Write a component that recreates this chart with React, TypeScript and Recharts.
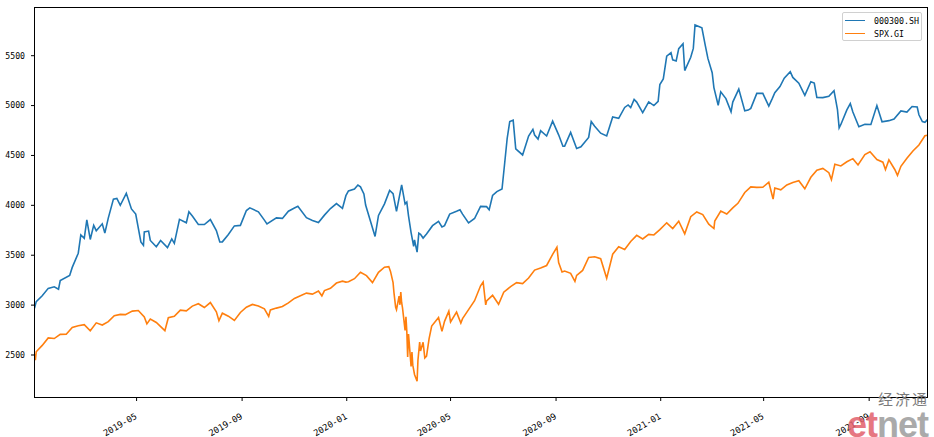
import React from 'react';
import { LineChart, Line, XAxis, YAxis } from 'recharts';

const csiDates = [
  '2019-01-02','2019-01-04','2019-01-11','2019-01-18','2019-01-25','2019-01-30','2019-02-01','2019-02-12','2019-02-15','2019-02-22',
  '2019-02-25','2019-03-01','2019-03-04','2019-03-08','2019-03-12','2019-03-15','2019-03-22','2019-03-25','2019-03-29','2019-04-04',
  '2019-04-08','2019-04-12','2019-04-19','2019-04-25','2019-04-30','2019-05-06','2019-05-09','2019-05-10','2019-05-15','2019-05-17',
  '2019-05-24','2019-05-29','2019-06-06','2019-06-11','2019-06-14','2019-06-20','2019-06-28','2019-07-01','2019-07-05','2019-07-12',
  '2019-07-19','2019-07-26','2019-08-02','2019-08-06','2019-08-09','2019-08-16','2019-08-23','2019-08-30','2019-09-06','2019-09-10',
  '2019-09-20','2019-09-27','2019-09-30','2019-10-11','2019-10-18','2019-10-25','2019-11-01','2019-11-05','2019-11-15','2019-11-22',
  '2019-11-29','2019-12-06','2019-12-13','2019-12-20','2019-12-27','2019-12-31','2020-01-03','2020-01-10','2020-01-14','2020-01-17',
  '2020-01-21','2020-01-23','2020-02-03','2020-02-07','2020-02-14','2020-02-20','2020-02-24','2020-02-28','2020-03-05','2020-03-09',
  '2020-03-11','2020-03-13','2020-03-16','2020-03-19','2020-03-20','2020-03-23','2020-03-25','2020-03-27','2020-03-30','2020-04-03',
  '2020-04-10','2020-04-17','2020-04-21','2020-04-24','2020-04-30','2020-05-08','2020-05-12','2020-05-15','2020-05-22','2020-05-29',
  '2020-06-05','2020-06-12','2020-06-15','2020-06-19','2020-06-24','2020-06-30','2020-07-03','2020-07-06','2020-07-09','2020-07-13',
  '2020-07-16','2020-07-17','2020-07-24','2020-07-31','2020-08-05','2020-08-07','2020-08-11','2020-08-14','2020-08-21','2020-08-28',
  '2020-09-04','2020-09-09','2020-09-11','2020-09-18','2020-09-25','2020-09-30','2020-10-09','2020-10-12','2020-10-16','2020-10-23',
  '2020-10-30','2020-11-06','2020-11-13','2020-11-20','2020-11-24','2020-11-27','2020-12-01','2020-12-04','2020-12-11','2020-12-18',
  '2020-12-24','2020-12-29','2020-12-31','2021-01-04','2021-01-08','2021-01-13','2021-01-15','2021-01-19','2021-01-22','2021-01-27',
  '2021-01-29','2021-02-05','2021-02-08','2021-02-10','2021-02-18','2021-02-22','2021-02-25','2021-03-02','2021-03-04','2021-03-09',
  '2021-03-12','2021-03-18','2021-03-24','2021-03-26','2021-04-02','2021-04-09','2021-04-13','2021-04-16','2021-04-23','2021-04-30',
  '2021-05-07','2021-05-11','2021-05-14','2021-05-20','2021-05-25','2021-06-01','2021-06-04','2021-06-11','2021-06-18','2021-06-25',
  '2021-06-29','2021-07-02','2021-07-09','2021-07-16','2021-07-22','2021-07-26','2021-07-28','2021-07-30','2021-08-06','2021-08-10',
  '2021-08-13','2021-08-20','2021-08-27','2021-09-03','2021-09-10','2021-09-16','2021-09-24','2021-09-30','2021-10-08','2021-10-15',
  '2021-10-21','2021-10-27','2021-10-29','2021-11-02','2021-11-05','2021-11-08',
];
const csiValues = [
  2969,3035,3094,3168,3184,3160,3247,3298,3378,3520,
  3704,3670,3855,3658,3800,3746,3815,3722,3872,4062,
  4070,4001,4120,3964,3913,3634,3599,3734,3742,3648,
  3585,3647,3576,3664,3619,3860,3825,3935,3893,3808,
  3808,3858,3747,3633,3634,3708,3794,3799,3948,3975,
  3935,3852,3814,3874,3869,3941,3973,3990,3877,3849,
  3828,3902,3968,4017,3970,4097,4144,4163,4204,4186,
  4115,4003,3688,3899,4015,4150,4118,3940,4206,4013,
  4033,3895,3727,3589,3653,3531,3722,3710,3672,3713,
  3796,3839,3784,3796,3912,3940,3955,3912,3824,3868,
  3990,3987,3955,4099,4138,4163,4414,4670,4840,4853,
  4567,4559,4505,4695,4762,4705,4664,4748,4695,4844,
  4707,4593,4593,4731,4570,4587,4681,4840,4793,4723,
  4695,4886,4872,4981,5006,4980,5061,5035,4930,5037,
  5000,5043,5211,5267,5495,5530,5458,5447,5570,5620,
  5351,5484,5573,5808,5779,5600,5473,5330,5180,5003,
  5138,5070,4938,5035,5165,4947,4955,4972,5122,5123,
  4995,5070,5130,5190,5275,5339,5282,5224,5102,5239,
  5225,5082,5080,5094,5150,4963,4776,4811,4957,5020,
  4936,4788,4813,4810,5000,4838,4849,4866,4946,4935,
  4990,4985,4908,4840,4832,4860,
];

const spxDates = [
  '2019-01-02','2019-01-03','2019-01-04','2019-01-11','2019-01-18','2019-01-25','2019-02-01','2019-02-08','2019-02-15','2019-02-22',
  '2019-03-01','2019-03-08','2019-03-15','2019-03-22','2019-03-29','2019-04-05','2019-04-12','2019-04-18','2019-04-26','2019-05-03',
  '2019-05-10','2019-05-13','2019-05-17','2019-05-24','2019-06-03','2019-06-07','2019-06-14','2019-06-21','2019-06-28','2019-07-05',
  '2019-07-12','2019-07-19','2019-07-26','2019-08-02','2019-08-05','2019-08-09','2019-08-16','2019-08-23','2019-08-30','2019-09-06',
  '2019-09-13','2019-09-20','2019-09-27','2019-10-02','2019-10-04','2019-10-11','2019-10-18','2019-10-25','2019-11-01','2019-11-08',
  '2019-11-15','2019-11-22','2019-11-29','2019-12-03','2019-12-06','2019-12-13','2019-12-20','2019-12-27','2019-12-31','2020-01-03',
  '2020-01-10','2020-01-17','2020-01-24','2020-01-31','2020-02-07','2020-02-14','2020-02-19','2020-02-21','2020-02-24','2020-02-25',
  '2020-02-27','2020-02-28','2020-03-02','2020-03-03','2020-03-04','2020-03-05','2020-03-06','2020-03-09','2020-03-10','2020-03-11',
  '2020-03-12','2020-03-13','2020-03-16','2020-03-17','2020-03-18','2020-03-20','2020-03-23','2020-03-24','2020-03-26','2020-03-27',
  '2020-03-30','2020-04-01','2020-04-03','2020-04-06','2020-04-09','2020-04-17','2020-04-21','2020-04-24','2020-04-29','2020-05-01',
  '2020-05-08','2020-05-13','2020-05-15','2020-05-22','2020-05-29','2020-06-05','2020-06-08','2020-06-11','2020-06-12','2020-06-19',
  '2020-06-26','2020-07-02','2020-07-10','2020-07-17','2020-07-24','2020-07-31','2020-08-07','2020-08-14','2020-08-21','2020-08-28',
  '2020-09-02','2020-09-04','2020-09-08','2020-09-11','2020-09-18','2020-09-23','2020-09-25','2020-10-02','2020-10-09','2020-10-16',
  '2020-10-23','2020-10-30','2020-11-06','2020-11-13','2020-11-20','2020-11-27','2020-12-04','2020-12-11','2020-12-18','2020-12-24',
  '2020-12-31','2021-01-08','2021-01-15','2021-01-22','2021-01-29','2021-02-05','2021-02-12','2021-02-19','2021-02-26','2021-03-04',
  '2021-03-05','2021-03-12','2021-03-19','2021-03-26','2021-04-01','2021-04-09','2021-04-16','2021-04-23','2021-04-30','2021-05-07',
  '2021-05-12','2021-05-14','2021-05-21','2021-05-28','2021-06-04','2021-06-11','2021-06-18','2021-06-25','2021-07-02','2021-07-09',
  '2021-07-16','2021-07-19','2021-07-23','2021-07-30','2021-08-06','2021-08-13','2021-08-19','2021-08-27','2021-09-02','2021-09-10',
  '2021-09-17','2021-09-20','2021-09-24','2021-10-01','2021-10-04','2021-10-08','2021-10-15','2021-10-22','2021-10-29','2021-11-05',
  '2021-11-08',
];
const spxValues = [
  2510,2448,2532,2596,2671,2665,2707,2708,2776,2793,
  2804,2743,2822,2800,2834,2893,2907,2905,2940,2946,
  2881,2812,2860,2826,2744,2873,2887,2950,2942,2990,
  3014,2976,3026,2932,2844,2919,2889,2847,2926,2979,
  3007,2992,2962,2887,2952,2970,2986,3023,3067,3093,
  3120,3110,3141,3093,3146,3169,3221,3240,3231,3235,
  3265,3330,3295,3226,3328,3380,3386,3338,3226,3128,
  2979,2954,3090,3003,3130,3024,2972,2747,2882,2741,
  2481,2711,2386,2529,2398,2305,2237,2447,2630,2541,
  2627,2471,2489,2664,2790,2875,2737,2837,2940,2831,
  2930,2820,2864,2955,3044,3194,3232,3002,3041,3098,
  3009,3130,3185,3225,3216,3271,3351,3373,3397,3508,
  3580,3427,3332,3341,3319,3237,3298,3348,3477,3484,
  3465,3270,3510,3585,3558,3638,3699,3663,3709,3703,
  3756,3825,3768,3841,3714,3887,3934,3907,3811,3768,
  3842,3943,3913,3975,4020,4129,4185,4180,4181,4232,
  4063,4174,4156,4204,4230,4247,4166,4281,4352,4370,
  4327,4258,4412,4395,4437,4468,4405,4509,4537,4459,
  4433,4358,4455,4357,4300,4391,4471,4545,4605,4697,
  4702,
];

const seriesNames = ['000300.SH', 'SPX.GI'];
const seriesColors = ['#1f77b4', '#ff7f0e'];
const yTicks = [2500, 3000, 3500, 4000, 4500, 5000, 5500];
const yDomain = [2074, 5983];
const xTickLabels = ['2019-05', '2019-09', '2020-01', '2020-05', '2020-09', '2021-01', '2021-05', '2021-09'];
const xRange = ['2019-01-02', '2021-11-08'];

const toTs = (s: string) => {
  const [y, m, d] = s.split('-').map(Number);
  return Date.UTC(y, m - 1, d || 1);
};

const csiData = csiDates.map((d, i) => ({ t: toTs(d), v: csiValues[i] }));
const spxData = spxDates.map((d, i) => ({ t: toTs(d), v: spxValues[i] }));
const xTicks = xTickLabels.map(toTs);
const xDomain = xRange.map(toTs);

const fmtMonth = (ts: number) => {
  const d = new Date(ts);
  return `${d.getUTCFullYear()}-${String(d.getUTCMonth() + 1).padStart(2, '0')}`;
};

const MONO = "'DejaVu Sans Mono', monospace";

const XTick = (props: any) => {
  const { x, y, payload } = props;
  return (
    <g transform={`translate(${x},${y})`}>
      <text x={1} y={15} textAnchor="end" transform="rotate(-30 1 15)" fontSize={8.8} fontFamily={MONO} fill="#000">
        {fmtMonth(payload.value)}
      </text>
    </g>
  );
};

export default function App() {
  return (
    <div style={{ position: 'absolute', left: 0, top: 0, width: 934, height: 437, background: '#fff' }}>
      <LineChart width={934} height={437} margin={{ top: 7.5, right: 6.5, bottom: 0, left: 0 }}>
        <XAxis
          dataKey="t"
          type="number"
          domain={xDomain}
          allowDataOverflow
          ticks={xTicks}
          tick={<XTick />}
          tickSize={3.5}
          height={39.5}
          interval={0}
          axisLine={{ stroke: '#000', strokeWidth: 1 }}
          tickLine={{ stroke: '#000', strokeWidth: 1 }}
        />
        <YAxis
          type="number"
          domain={yDomain}
          allowDataOverflow
          ticks={yTicks}
          width={34.5}
          tickSize={3.5}
          tickMargin={6}
          interval={0}
          tick={{ fontSize: 8.2, fontFamily: MONO, fill: '#000' }}
          axisLine={{ stroke: '#000', strokeWidth: 1 }}
          tickLine={{ stroke: '#000', strokeWidth: 1 }}
        />
        <Line
          data={csiData}
          dataKey="v"
          name={seriesNames[0]}
          stroke={seriesColors[0]}
          strokeWidth={1.6}
          dot={false}
          activeDot={false}
          isAnimationActive={false}
          type="linear"
        />
        <Line
          data={spxData}
          dataKey="v"
          name={seriesNames[1]}
          stroke={seriesColors[1]}
          strokeWidth={1.6}
          dot={false}
          activeDot={false}
          isAnimationActive={false}
          type="linear"
        />
      </LineChart>

      <div
        style={{
          position: 'absolute', left: 34, top: 7, width: 894, height: 391,
          border: '1px solid #000', boxSizing: 'border-box', pointerEvents: 'none',
        }}
      />

      <div
        style={{
          position: 'absolute', left: 842, top: 12, width: 80, height: 29,
          border: '1px solid #d0d0d0', borderRadius: 2, background: 'rgba(255,255,255,0.8)',
          boxSizing: 'border-box', fontFamily: MONO, fontSize: 8.3, color: '#000',
        }}
      >
        {seriesNames.map((n, i) => (
          <div key={n} style={{ position: 'absolute', left: 0, top: 2 + i * 13, height: 12, width: 78 }}>
            <div style={{ position: 'absolute', left: 2, top: 4.5, width: 20, height: 1.6, background: seriesColors[i] }} />
            <div style={{ position: 'absolute', left: 31, top: 0, lineHeight: '12px', whiteSpace: 'nowrap' }}>{n}</div>
          </div>
        ))}
      </div>

      <svg width={934} height={437} style={{ position: 'absolute', left: 0, top: 0, pointerEvents: 'none' }}>
        <text x={878} y={405} fontSize={15} fontFamily="'Noto Sans CJK SC', sans-serif" fill="#7a7a7a" letterSpacing={2}>经济通</text>
        <text x={847} y={437} fontSize={36} fontWeight="bold" fontFamily="'Liberation Sans', Arial, sans-serif" letterSpacing={-1} opacity={0.85}>
          <tspan fill="#e2606c">et</tspan>
          <tspan fill="#9c9c9c">net</tspan>
        </text>
      </svg>
    </div>
  );
}
